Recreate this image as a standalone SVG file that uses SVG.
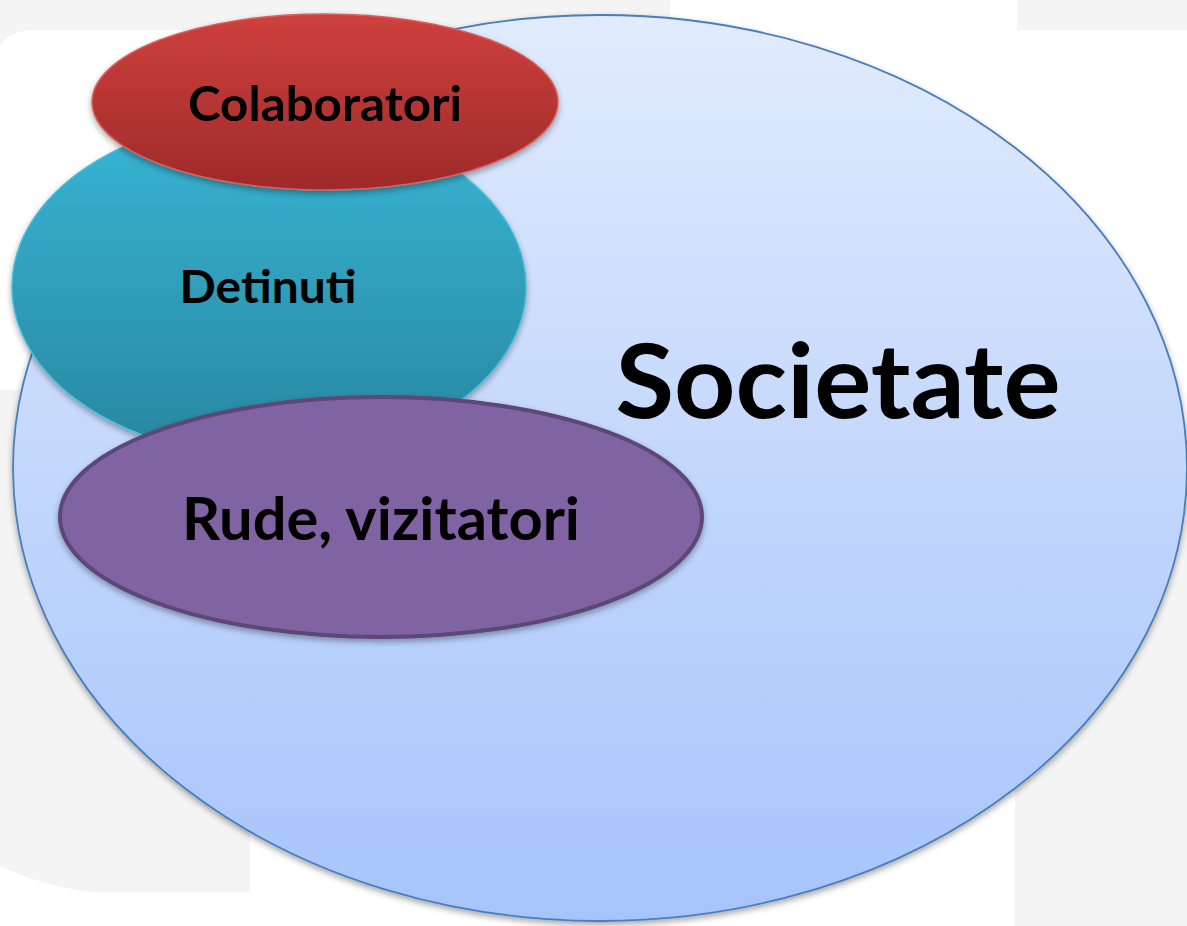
<svg xmlns="http://www.w3.org/2000/svg" width="1187" height="926" viewBox="0 0 1187 926">
  <style>
    .lbl { font-family: Lato, "Open Sans", "Liberation Sans", sans-serif; font-weight: bold; fill: #000; text-anchor: middle; }
  </style>
  <defs>
    <linearGradient id="gSoc" x1="0" y1="0" x2="0" y2="1">
      <stop offset="0" stop-color="#e1ebfd"/>
      <stop offset="1" stop-color="#a6c4fb"/>
    </linearGradient>
    <linearGradient id="gDet" x1="0" y1="0" x2="0" y2="1">
      <stop offset="0" stop-color="#37b6d6"/>
      <stop offset="1" stop-color="#28869f"/>
    </linearGradient>
    <linearGradient id="gCol" x1="0" y1="0" x2="0" y2="1">
      <stop offset="0" stop-color="#cf403d"/>
      <stop offset="1" stop-color="#9e2a2a"/>
    </linearGradient>
    <filter id="sh" x="-10%" y="-10%" width="120%" height="125%">
      <feDropShadow dx="0" dy="3" stdDeviation="3" flood-color="#000" flood-opacity="0.35"/>
    </filter>
  </defs>

  <g id="background">
    <rect x="0" y="0" width="1187" height="926" fill="#ffffff"/>
    <path d="M0 0 H670 V30 H30 Q10 32 0 45 Z" fill="#f4f4f4"/>
    <rect x="1017" y="0" width="170" height="30" fill="#f4f4f4"/>
    <path d="M0 390 H250 V892 H90 Q40 885 0 866 Z" fill="#f4f4f4"/>
    <rect x="1015" y="430" width="172" height="496" fill="#f4f4f4"/>
  </g>

  <g id="societate">
    <ellipse cx="600" cy="468" rx="587" ry="453" fill="url(#gSoc)" stroke="#4a7ebb" stroke-width="1.8" filter="url(#sh)"/>
    <text class="lbl" x="838" y="418" font-size="104" textLength="445" lengthAdjust="spacingAndGlyphs">Societate</text>
  </g>

  <g id="detinuti">
    <ellipse cx="269" cy="287" rx="257" ry="170" fill="url(#gDet)" stroke="#46bcd8" stroke-width="1.5" filter="url(#sh)"/>
    <text class="lbl" x="268" y="303" font-size="46" textLength="177" lengthAdjust="spacingAndGlyphs">Detinuti</text>
  </g>

  <g id="colaboratori">
    <ellipse cx="325" cy="102" rx="233" ry="88" fill="url(#gCol)" stroke="#d9615e" stroke-width="1.5" filter="url(#sh)"/>
    <text class="lbl" x="325" y="121" font-size="47" textLength="274" lengthAdjust="spacingAndGlyphs">Colaboratori</text>
  </g>

  <g id="rude">
    <ellipse cx="381" cy="517" rx="321" ry="120" fill="#8064a2" stroke="#5c4776" stroke-width="4" filter="url(#sh)"/>
    <text class="lbl" x="381" y="540" font-size="60" textLength="398" lengthAdjust="spacingAndGlyphs">Rude, vizitatori</text>
  </g>

  <g id="connectors"/>
</svg>
